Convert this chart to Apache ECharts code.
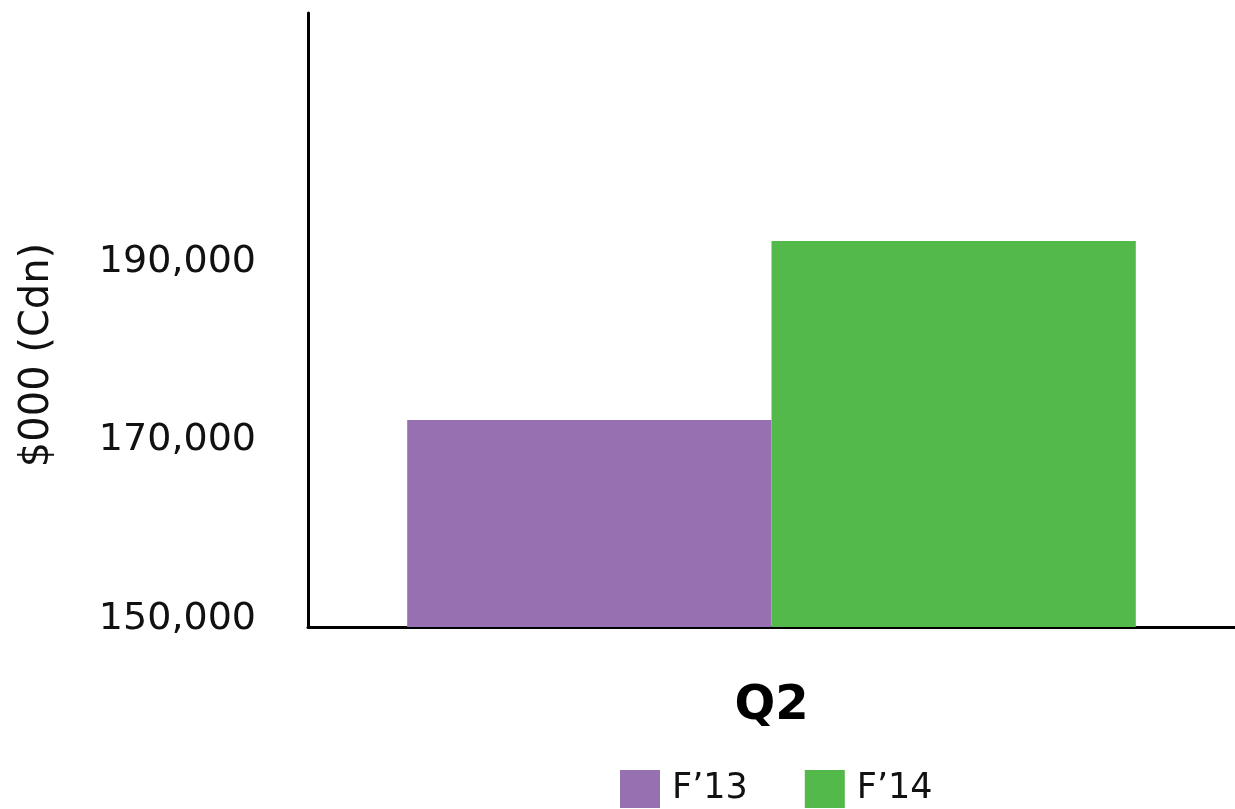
<!DOCTYPE html>
<html>
<head>
<meta charset="utf-8">
<script src="https://cdn.jsdelivr.net/npm/echarts@6/dist/echarts.min.js"></script>
<style>
html,body{margin:0;padding:0;background:#fff;}
#chart{width:1235px;height:809px;}
</style>
</head>
<body>
<div id="chart"></div>
<script>
const categories = ['Q2'];
const seriesNames = ['F’13', 'F’14'];
const f13Values = [173200];
const f14Values = [193250];
const tickValues = [150000, 170000, 190000];
const yName = '$000 (Cdn)';

const FONT = 'DejaVu Sans';
const chart = echarts.init(document.getElementById('chart'), null, {renderer: 'canvas'});
chart.setOption({
  animation: false,
  backgroundColor: '#ffffff',
  grid: {left: 308, top: 13, right: 0, bottom: 182, containLabel: false, outerBoundsMode: 'none'},
  legend: {
    left: 620, top: 770, padding: 0,
    icon: 'rect', itemWidth: 40, itemHeight: 38, itemGap: 57,
    textStyle: {fontFamily: FONT, fontSize: 35, color: '#111', padding: [0, 0, 0, 7]},
    data: seriesNames
  },
  xAxis: {
    type: 'category',
    data: categories,
    axisLine: {lineStyle: {color: '#000', width: 3}},
    axisTick: {show: false},
    axisLabel: {fontFamily: FONT, fontSize: 48, fontWeight: 'bold', color: '#000', margin: 56, lineHeight: 48}
  },
  yAxis: {
    type: 'value',
    min: 150000, max: 218800,
    name: yName,
    nameLocation: 'middle',
    nameRotate: 90,
    nameGap: 250,
    nameTextStyle: {fontFamily: FONT, fontSize: 40, color: '#111', padding: [0, 70, 0, 0]},
    axisLine: {show: true, lineStyle: {color: '#000', width: 3}},
    axisTick: {show: false},
    splitLine: {show: false},
    axisLabel: {
      customValues: tickValues,
      fontFamily: FONT, fontSize: 38, color: '#111', margin: 52,
      verticalAlign: 'bottom', lineHeight: 16,
      formatter: v => v.toLocaleString('en-US')
    }
  },
  series: [
    {name: seriesNames[0], type: 'bar', data: f13Values, itemStyle: {color: '#9670b0'}, barGap: '0%', barCategoryGap: '21.4%'},
    {name: seriesNames[1], type: 'bar', data: f14Values, itemStyle: {color: '#53b94a'}, barGap: '0%', barCategoryGap: '21.4%'}
  ]
});
</script>
</body>
</html>
